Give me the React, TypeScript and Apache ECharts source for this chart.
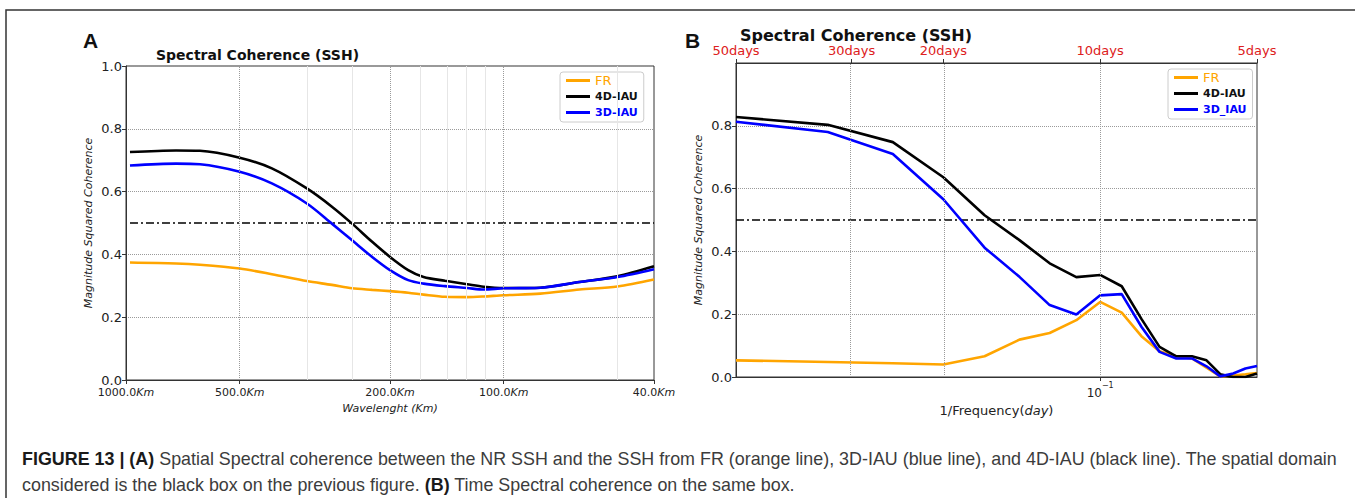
import React, { useEffect, useRef } from "react";
import * as echarts from "echarts";

// ---------- Panel A : spatial coherence ----------
const wavelengthKm = [976, 737, 637, 500, 411, 332, 285, 252, 223, 200, 179, 163, 143, 125, 113, 100, 80, 63, 50, 40];
const spatialFR = [0.374, 0.371, 0.367, 0.355, 0.337, 0.315, 0.303, 0.292, 0.287, 0.283, 0.278, 0.272, 0.265, 0.264, 0.266, 0.27, 0.275, 0.288, 0.298, 0.32];
const spatial4D = [0.726, 0.731, 0.73, 0.708, 0.674, 0.61, 0.552, 0.498, 0.44, 0.392, 0.35, 0.328, 0.316, 0.305, 0.297, 0.293, 0.294, 0.312, 0.33, 0.362];
const spatial3D = [0.683, 0.689, 0.687, 0.663, 0.626, 0.562, 0.498, 0.445, 0.392, 0.35, 0.318, 0.307, 0.299, 0.293, 0.288, 0.292, 0.294, 0.312, 0.328, 0.353];
const spatialTickKm = [1000, 500, 200, 100, 40];
const spatialMajorGridKm = [500, 200, 100];
const spatialMinorGridKm = [333.33, 250, 166.67, 142.86, 125, 111.11, 50];

// ---------- Panel B : temporal coherence ----------
const frequency = [0.02, 0.03, 0.04, 0.05, 0.06, 0.07, 0.08, 0.09, 0.1, 0.11, 0.12, 0.13, 0.14, 0.15, 0.16, 0.17, 0.18, 0.19, 0.2];
const temporalFR = [0.053, 0.048, 0.044, 0.04, 0.066, 0.119, 0.14, 0.181, 0.239, 0.205, 0.13, 0.082, 0.066, 0.059, 0.03, 0.002, 0.005, 0.009, 0.013];
const temporal4D = [0.828, 0.803, 0.748, 0.636, 0.515, 0.436, 0.362, 0.318, 0.325, 0.289, 0.185, 0.096, 0.066, 0.066, 0.053, 0.009, 0.0, 0.0, 0.011];
const temporal3D = [0.813, 0.78, 0.71, 0.566, 0.412, 0.319, 0.229, 0.199, 0.26, 0.264, 0.16, 0.08, 0.059, 0.059, 0.034, 0.002, 0.011, 0.027, 0.035];
const periodTickDays = [50, 30, 20, 10, 5];
const periodGridDays = [30, 20, 10];
const frequencyTicks = [0.1];

const threshold = 0.5;

const ORANGE = "#FFA500";
const BLACK = "#000000";
const BLUE = "#0000FF";
const RED = "#dd2020";
const DJ = "DejaVu Sans";

const captionBold1 = "FIGURE 13 | (A)";
const captionText1 =
  " Spatial Spectral coherence between the NR SSH and the SSH from FR (orange line), 3D-IAU (blue line), and 4D-IAU (black line). The spatial domain";
const captionText2a = "considered is the black box on the previous figure. ";
const captionBold2 = "(B)";
const captionText2b = " Time Spectral coherence on the same box.";

const toXA = (km: number) => Math.log10(1000 / km);
const toXB = (f: number) => Math.log10(f);

function measure(text: string, font: string) {
  const c = document.createElement("canvas").getContext("2d");
  if (!c) return text.length * 8;
  c.font = font;
  return c.measureText(text).width;
}

export default function App() {
  const ref = useRef<HTMLDivElement>(null);

  useEffect(() => {
    if (!ref.current) return;
    const chart = echarts.init(ref.current, undefined, { renderer: "svg" });

    const CAP_FONT = "Liberation Sans";
    const CAP_SIZE = 18;
    const w1 =
      measure(captionBold1, `bold ${CAP_SIZE}px "${CAP_FONT}"`) +
      measure(captionText1, `${CAP_SIZE}px "${CAP_FONT}"`);
    const capScale = 1316 / w1;

    const lineSeries = (name: string, color: string, xs: number[], ys: number[], xi: number, yi: number, smooth: any) => ({
      type: "line",
      name,
      xAxisIndex: xi,
      yAxisIndex: yi,
      data: xs.map((x, i) => [x, ys[i]]),
      showSymbol: false,
      symbol: "none",
      smooth,
      color,
      lineStyle: { color, width: 2.6 },
      z: 3,
      clip: true,
    });

    const mk = (v: number, major: boolean) => ({
      xAxis: v,
      lineStyle: major
        ? { type: "dotted", color: "#9a9a9a", width: 1 }
        : { type: "solid", color: "#e6e6e6", width: 1 },
    });

    const yAxisCommon = (gridIndex: number, fontSize: number, hideMax: boolean) => ({
      type: "value",
      gridIndex,
      min: 0,
      max: 1,
      interval: 0.2,
      axisLine: { show: true, lineStyle: { color: "#333", width: 1 } },
      axisTick: { show: true, length: 4, lineStyle: { color: "#333" } },
      axisLabel: {
        fontFamily: DJ,
        fontSize,
        lineHeight: fontSize - 2,
        color: "#222",
        margin: 4,
        showMaxLabel: !hideMax,
        formatter: (v: number) => v.toFixed(1),
      },
      splitLine: { show: true, lineStyle: { type: "dotted", color: "#9a9a9a", width: 1 } },
      name: "Magnitude Squared Coherence",
      nameLocation: "middle",
      nameRotate: 90,
      nameGap: 32,
      nameTextStyle: { fontFamily: DJ, fontStyle: "italic", fontSize: 11, color: "#222" },
    });

    const legendCommon = {
      orient: "vertical",
      icon: "rect",
      itemWidth: 24,
      itemHeight: 3,
      itemGap: 3,
      padding: [2, 6, 3, 6],
      borderColor: "#cccccc",
      borderWidth: 1,
      borderRadius: 3,
      backgroundColor: "#ffffff",
      selectedMode: false,
      textStyle: { fontFamily: DJ, fontSize: 11, fontWeight: "bold", lineHeight: 13 },
    };

    const option: any = {
      animation: false,
      backgroundColor: "#ffffff",
      grid: [
        { left: 126, top: 66, width: 528, height: 314, show: true, borderColor: "#333", borderWidth: 1, backgroundColor: "transparent" },
        { left: 736, top: 63, width: 521, height: 314, show: true, borderColor: "#333", borderWidth: 1, backgroundColor: "transparent" },
      ],
      xAxis: [
        {
          type: "value",
          gridIndex: 0,
          min: toXA(1000),
          max: toXA(40),
          axisLine: { show: true, lineStyle: { color: "#333" } },
          axisTick: { show: true, length: 4, customValues: spatialTickKm.map(toXA), lineStyle: { color: "#333" } },
          axisLabel: {
            customValues: spatialTickKm.map(toXA),
            margin: 7,
            formatter: (v: number) => `{n|${(1000 / Math.pow(10, v)).toFixed(1)}}{i|Km}`,
            rich: {
              n: { fontFamily: DJ, fontSize: 11, color: "#222" },
              i: { fontFamily: DJ, fontSize: 11, fontStyle: "italic", color: "#222" },
            },
          },
          splitLine: { show: false },
          name: "Wavelenght (Km)",
          nameLocation: "middle",
          nameGap: 22,
          nameTextStyle: { fontFamily: DJ, fontStyle: "italic", fontSize: 11, color: "#222" },
        },
        {
          type: "value",
          gridIndex: 1,
          min: toXB(0.02),
          max: toXB(0.2),
          axisLine: { show: true, lineStyle: { color: "#333" } },
          axisTick: { show: true, length: 4, customValues: frequencyTicks.map(toXB), lineStyle: { color: "#333" } },
          axisLabel: {
            customValues: frequencyTicks.map(toXB),
            margin: 4,
            formatter: (v: number) => `{b|10}{s|\u2212${Math.round(-v)}}`,
            rich: {
              b: { fontFamily: DJ, fontSize: 12, color: "#222", lineHeight: 18, verticalAlign: "bottom" },
              s: { fontFamily: DJ, fontSize: 8, color: "#222", verticalAlign: "top", lineHeight: 10 },
            },
          },
          splitLine: { show: false },
          name: "{n|1/Frequency(}{i|day}{n|)}",
          nameLocation: "middle",
          nameGap: 22,
          nameTextStyle: {
            rich: {
              n: { fontFamily: DJ, fontSize: 13, color: "#222" },
              i: { fontFamily: DJ, fontSize: 13, fontStyle: "italic", color: "#222" },
            },
          },
        },
        {
          type: "value",
          gridIndex: 1,
          position: "top",
          min: toXB(0.02),
          max: toXB(0.2),
          axisLine: { show: true, lineStyle: { color: "#333" } },
          axisTick: { show: true, length: 4, customValues: periodTickDays.map((d) => toXB(1 / d)), lineStyle: { color: "#333" } },
          axisLabel: {
            customValues: periodTickDays.map((d) => toXB(1 / d)),
            margin: 6,
            fontFamily: DJ,
            fontSize: 13,
            color: RED,
            formatter: (v: number) => `${Math.round(1 / Math.pow(10, v))}days`,
          },
          splitLine: { show: false },
        },
      ],
      yAxis: [yAxisCommon(0, 13, false), yAxisCommon(1, 13, true)],
      legend: [
        {
          ...legendCommon,
          left: 560,
          top: 72,
          data: [
            { name: "FR", textStyle: { color: ORANGE, fontWeight: "normal", fontSize: 13 } },
            { name: "4D-IAU", textStyle: { color: "#111" } },
            { name: "3D-IAU", textStyle: { color: BLUE } },
          ],
        },
        {
          ...legendCommon,
          left: 1168,
          top: 69,
          data: [
            { name: "FR", textStyle: { color: ORANGE, fontWeight: "normal", fontSize: 13 } },
            { name: "4D-IAU", textStyle: { color: "#111" } },
            { name: "3D_IAU", textStyle: { color: BLUE } },
          ],
        },
      ],
      series: [
        {
          type: "line",
          name: "thresholdA",
          xAxisIndex: 0,
          yAxisIndex: 0,
          data: [
            [toXA(wavelengthKm[0]), threshold],
            [toXA(wavelengthKm[wavelengthKm.length - 1]), threshold],
          ],
          symbol: "none",
          lineStyle: { color: "#000", width: 1.3, type: [8, 3, 2, 3] },
          z: 2,
          silent: true,
          markLine: {
            silent: true,
            symbol: ["none", "none"],
            label: { show: false },
            data: [
              ...spatialMinorGridKm.map((km) => mk(toXA(km), false)),
              ...spatialMajorGridKm.map((km) => mk(toXA(km), true)),
            ],
          },
        },
        lineSeries("FR", ORANGE, wavelengthKm.map(toXA), spatialFR, 0, 0, 0.3),
        lineSeries("4D-IAU", BLACK, wavelengthKm.map(toXA), spatial4D, 0, 0, 0.3),
        lineSeries("3D-IAU", BLUE, wavelengthKm.map(toXA), spatial3D, 0, 0, 0.3),
        {
          type: "line",
          name: "thresholdB",
          xAxisIndex: 1,
          yAxisIndex: 1,
          data: [
            [toXB(frequency[0]), threshold],
            [toXB(frequency[frequency.length - 1]), threshold],
          ],
          symbol: "none",
          lineStyle: { color: "#000", width: 1.3, type: [8, 3, 2, 3] },
          z: 2,
          silent: true,
          markLine: {
            silent: true,
            symbol: ["none", "none"],
            label: { show: false },
            data: periodGridDays.map((d) => mk(toXB(1 / d), true)),
          },
        },
        lineSeries("FR", ORANGE, frequency.map(toXB), temporalFR, 1, 1, false),
        lineSeries("4D-IAU", BLACK, frequency.map(toXB), temporal4D, 1, 1, false),
        lineSeries("3D_IAU", BLUE, frequency.map(toXB), temporal3D, 1, 1, false),
      ],
      graphic: [
        {
          type: "rect",
          shape: { x: 6, y: 10, width: 1500, height: 700 },
          style: { fill: "none", stroke: "#333", lineWidth: 1.5 },
          silent: true,
        },
        {
          type: "text",
          x: 83,
          y: 40,
          style: { text: "A", fontFamily: "Liberation Sans", fontWeight: "bold", fontSize: 21, fill: "#111", verticalAlign: "middle", align: "left" },
        },
        {
          type: "text",
          x: 156,
          y: 55,
          style: { text: "Spectral Coherence (SSH)", fontFamily: DJ, fontWeight: "bold", fontSize: 14, fill: "#111", verticalAlign: "middle", align: "left" },
        },
        {
          type: "text",
          x: 685,
          y: 40,
          style: { text: "B", fontFamily: "Liberation Sans", fontWeight: "bold", fontSize: 21, fill: "#111", verticalAlign: "middle", align: "left" },
        },
        {
          type: "text",
          x: 740,
          y: 35,
          style: { text: "Spectral Coherence (SSH)", fontFamily: DJ, fontWeight: "bold", fontSize: 16, fill: "#111", verticalAlign: "middle", align: "left" },
        },
        {
          type: "text",
          x: 22,
          y: 459,
          scaleX: capScale,
          style: {
            text: `{b|${captionBold1}}{r|${captionText1}}`,
            verticalAlign: "middle",
            align: "left",
            rich: {
              b: { fontFamily: CAP_FONT, fontWeight: "bold", fontSize: CAP_SIZE, fill: "#1a1a1a" },
              r: { fontFamily: CAP_FONT, fontSize: CAP_SIZE, fill: "#3c3c3c" },
            },
          },
        },
        {
          type: "text",
          x: 22,
          y: 485,
          scaleX: capScale,
          style: {
            text: `{r|${captionText2a}}{b|${captionBold2}}{r|${captionText2b}}`,
            verticalAlign: "middle",
            align: "left",
            rich: {
              b: { fontFamily: CAP_FONT, fontWeight: "bold", fontSize: CAP_SIZE, fill: "#1a1a1a" },
              r: { fontFamily: CAP_FONT, fontSize: CAP_SIZE, fill: "#3c3c3c" },
            },
          },
        },
      ],
    };

    chart.setOption(option);
    return () => {
      chart.dispose();
    };
  }, []);

  return (
    <div
      ref={ref}
      style={{ position: "absolute", left: 0, top: 0, width: 1355, height: 498, background: "#fff" }}
    />
  );
}
